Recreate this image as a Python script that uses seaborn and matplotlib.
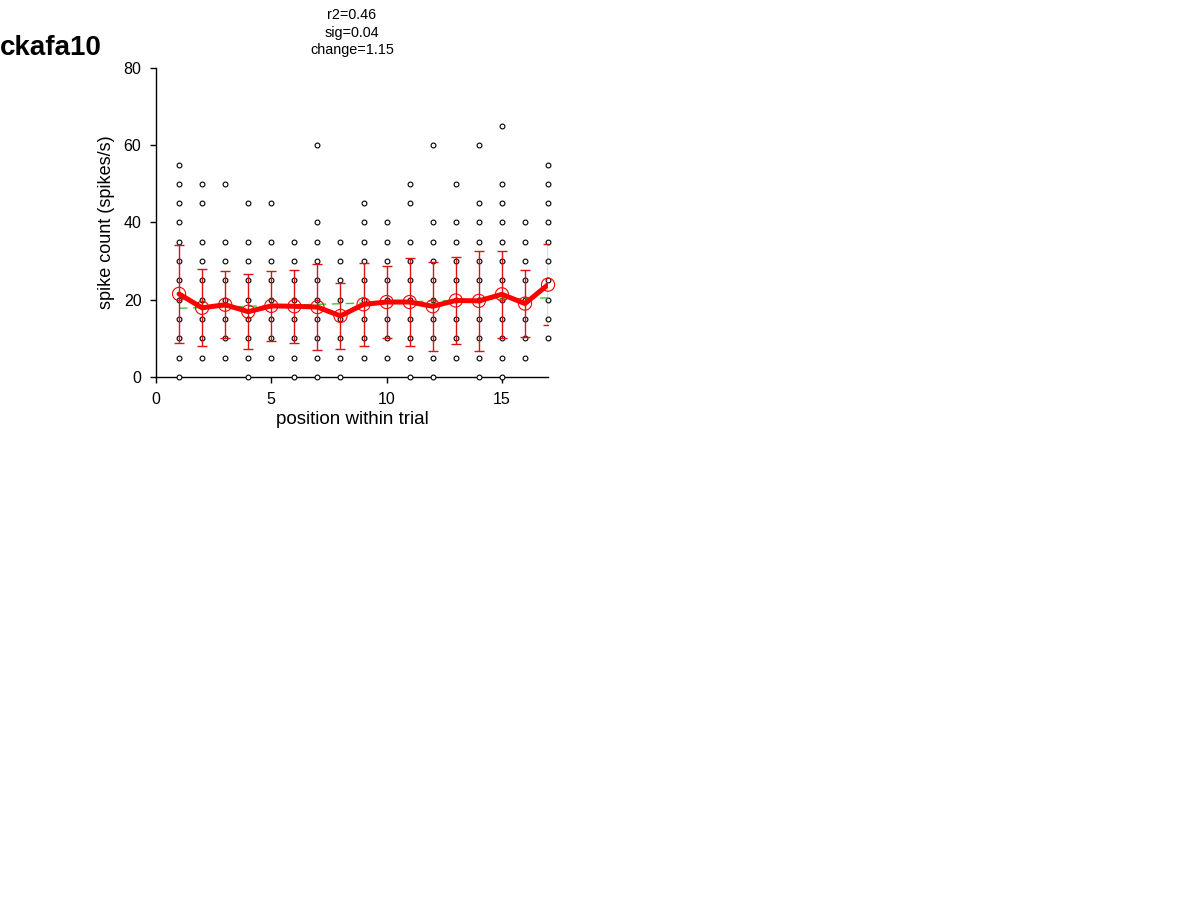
import matplotlib
matplotlib.use("Agg")
import matplotlib.pyplot as plt
import seaborn as sns
import numpy as np
import pandas as pd

# positions within the trial
positions = list(range(1, 18))

# distinct spike counts seen at each position (spikes/s)
spike_values = [
    [0, 5, 10, 15, 20, 25, 30, 35, 40, 45, 50, 55],
    [5, 10, 15, 20, 25, 30, 35, 45, 50],
    [5, 10, 15, 20, 25, 30, 35, 50],
    [0, 5, 10, 15, 20, 25, 30, 35, 45],
    [5, 10, 15, 20, 25, 30, 35, 45],
    [0, 5, 10, 15, 20, 25, 30, 35],
    [0, 5, 10, 15, 20, 25, 30, 35, 40, 60],
    [0, 5, 10, 15, 20, 25, 30, 35],
    [5, 10, 15, 20, 25, 30, 35, 40, 45],
    [5, 10, 15, 20, 25, 30, 35, 40],
    [0, 5, 10, 15, 20, 25, 30, 35, 45, 50],
    [0, 5, 10, 15, 20, 25, 30, 35, 40, 60],
    [5, 10, 15, 20, 25, 30, 35, 40, 50],
    [0, 5, 10, 15, 20, 25, 30, 35, 40, 45, 60],
    [0, 5, 10, 15, 20, 25, 30, 35, 40, 45, 50, 65],
    [5, 10, 15, 20, 25, 30, 35, 40],
    [10, 15, 20, 25, 30, 35, 40, 45, 50, 55],
]

# mean and standard deviation per position
mean_rate = [21.5, 17.9, 18.7, 16.9, 18.4, 18.3, 18.1, 15.8, 18.8,
             19.4, 19.4, 18.3, 19.8, 19.7, 21.4, 19.0, 23.9]
sd_rate = [12.6, 10.0, 8.7, 9.7, 9.1, 9.5, 11.1, 8.5, 10.7,
           9.3, 11.4, 11.5, 11.2, 13.0, 11.3, 8.6, 10.5]

cell_name = "ckafa10"
stats_text = "r2=0.46\nsig=0.04\nchange=1.15"

dots = pd.DataFrame(
    [(p, v) for p, vals in zip(positions, spike_values) for v in vals],
    columns=["position", "rate"],
)
means = pd.DataFrame({"position": positions, "rate": mean_rate, "sd": sd_rate})

sns.set_style("white")
plt.rcParams["font.family"] = ["Liberation Sans", "DejaVu Sans"]
plt.rcParams["text.color"] = "black"
plt.rcParams["axes.labelcolor"] = "black"

fig = plt.figure(figsize=(12, 9.01), dpi=100)
ax = fig.add_axes([0.13, 0.5816, 0.3267, 0.343])

# individual values
sns.scatterplot(data=dots, x="position", y="rate", ax=ax, marker="o",
                facecolor="white", edgecolor="black", linewidth=0.8, s=12,
                clip_on=False, zorder=3, legend=False)

# regression of the means
slope, intercept = np.polyfit(positions, mean_rate, 1)
fit_x = np.array([positions[0], positions[-1]])
ax.plot(fit_x, intercept + slope * fit_x, color="#33cc33", linestyle="--",
        linewidth=1.0, dashes=(6, 4), zorder=4)

# error bars
ax.errorbar(means["position"], means["rate"], yerr=means["sd"], fmt="none",
            ecolor="#dd1111", elinewidth=1.0, capsize=3.5, capthick=1.0, zorder=5)

# mean line and markers
sns.lineplot(data=means, x="position", y="rate", ax=ax, color="red",
             linewidth=3.6, zorder=6, legend=False)
ax.scatter(means["position"], means["rate"], s=90, facecolor="none",
           edgecolor="red", linewidth=0.8, zorder=7, clip_on=False)

ax.set_xlim(0, 17)
ax.set_ylim(0, 80)
ax.set_xticks([0, 5, 10, 15])
ax.set_yticks([0, 20, 40, 60, 80])
ax.tick_params(axis="both", direction="out", length=4, width=1, color="black",
               labelcolor="black", labelsize=11.5, left=True, bottom=True)
ax.tick_params(axis="x", pad=7)
ax.tick_params(axis="y", pad=6.5)
for side in ["top", "right"]:
    ax.spines[side].set_visible(False)
for side in ["left", "bottom"]:
    ax.spines[side].set_color("black")
    ax.spines[side].set_linewidth(1.0)

ax.set_xlabel("position within trial", fontsize=13.5, labelpad=3)
ax.set_ylabel("spike count (spikes/s)", fontsize=13, labelpad=6)
ax.set_title(stats_text, fontsize=10.4, linespacing=1.3, pad=10)

fig.text(0.0, 0.947, cell_name, fontsize=20, fontweight="bold",
         ha="left", va="center")

fig.savefig("out.png", dpi=100)
